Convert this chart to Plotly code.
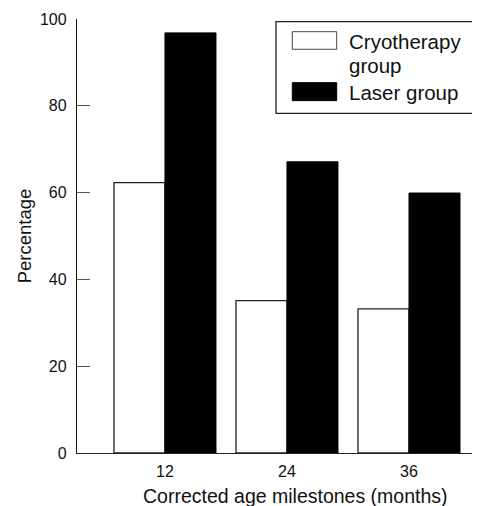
import plotly.graph_objects as go

categories = ["12", "24", "36"]
cryotherapy = [62.3, 35.1, 33.2]
laser = [96.8, 67.1, 59.9]
y_ticks = [0, 20, 40, 60, 80, 100]

FONT = "Liberation Sans, Arial, sans-serif"
OFF = 8  # page body margin offset
W, H = 480 - OFF, 506 - OFF
# plot area in reference pixel coordinates
X0, X1, Y_TOP, Y_BOT = 77, 480, 19, 453.3
L, R, T, B = X0 - OFF, 0, Y_TOP - OFF, H - (Y_BOT - OFF)
PW, PH = X1 - X0, Y_BOT - Y_TOP


def px(x):
    return (x - X0) / PW


def py(y):
    return (Y_BOT - y) / PH


fig = go.Figure()
fig.add_trace(go.Bar(
    x=categories, y=cryotherapy, name="Cryotherapy group",
    marker=dict(color="white", line=dict(color="#222222", width=1.3)),
    showlegend=False,
))
fig.add_trace(go.Bar(
    x=categories, y=laser, name="Laser group",
    marker=dict(color="black", line=dict(color="black", width=1)),
    showlegend=False,
))

shapes = [
    dict(type="rect", xref="paper", yref="paper",
         x0=px(276), x1=px(479), y0=py(113.5), y1=py(21.7),
         line=dict(color="#222222", width=1.3), fillcolor="white", layer="above"),
    dict(type="rect", xref="paper", yref="paper",
         x0=px(292.3), x1=px(336.7), y0=py(49.3), y1=py(31.7),
         line=dict(color="#444444", width=1), fillcolor="white", layer="above"),
    dict(type="rect", xref="paper", yref="paper",
         x0=px(292.3), x1=px(336.7), y0=py(100.7), y1=py(82.7),
         line=dict(color="black", width=1), fillcolor="black", layer="above"),
]
LEG_FONT = dict(family=FONT, size=20.5, color="#111111")
annotations = [
    dict(text="Cryotherapy", xref="paper", yref="paper", x=px(347), y=py(42),
         xanchor="left", yanchor="middle", showarrow=False, font=LEG_FONT),
    dict(text="group", xref="paper", yref="paper", x=px(347), y=py(66),
         xanchor="left", yanchor="middle", showarrow=False, font=LEG_FONT),
    dict(text="Laser group", xref="paper", yref="paper", x=px(347), y=py(93),
         xanchor="left", yanchor="middle", showarrow=False, font=LEG_FONT),
    # x-axis title (offset right of the plot centre, as in the reference)
    dict(text="Corrected age milestones (months)", xref="paper", yref="paper",
         x=px(295), y=py(496), xanchor="center", yanchor="middle",
         showarrow=False, font=dict(family=FONT, size=19.5, color="#111111")),
]

fig.update_layout(
    width=W, height=H,
    margin=dict(l=L, r=R, t=T, b=B, pad=0),
    paper_bgcolor="white", plot_bgcolor="white",
    barmode="group", bargap=0.164, bargroupgap=0,
    font=dict(family=FONT, color="#111111"),
    shapes=shapes, annotations=annotations,
    xaxis=dict(
        type="category", range=[-0.721, 2.582],
        showline=True, linecolor="#222222", linewidth=1.3,
        ticks="", showgrid=False, zeroline=False,
        tickfont=dict(size=16), ticklabelstandoff=4,
        automargin=False,
    ),
    yaxis=dict(
        range=[0, 100], tickvals=y_ticks,
        showline=True, linecolor="#111111", linewidth=1.3,
        ticks="inside", ticklen=13, tickwidth=1.3, tickcolor="#555555",
        showgrid=False, zeroline=False,
        tickfont=dict(size=16), ticklabelstandoff=6,
        title=dict(text="Percentage", font=dict(size=18.5), standoff=3),
        automargin=False,
    ),
)

fig.write_html("out.html")
